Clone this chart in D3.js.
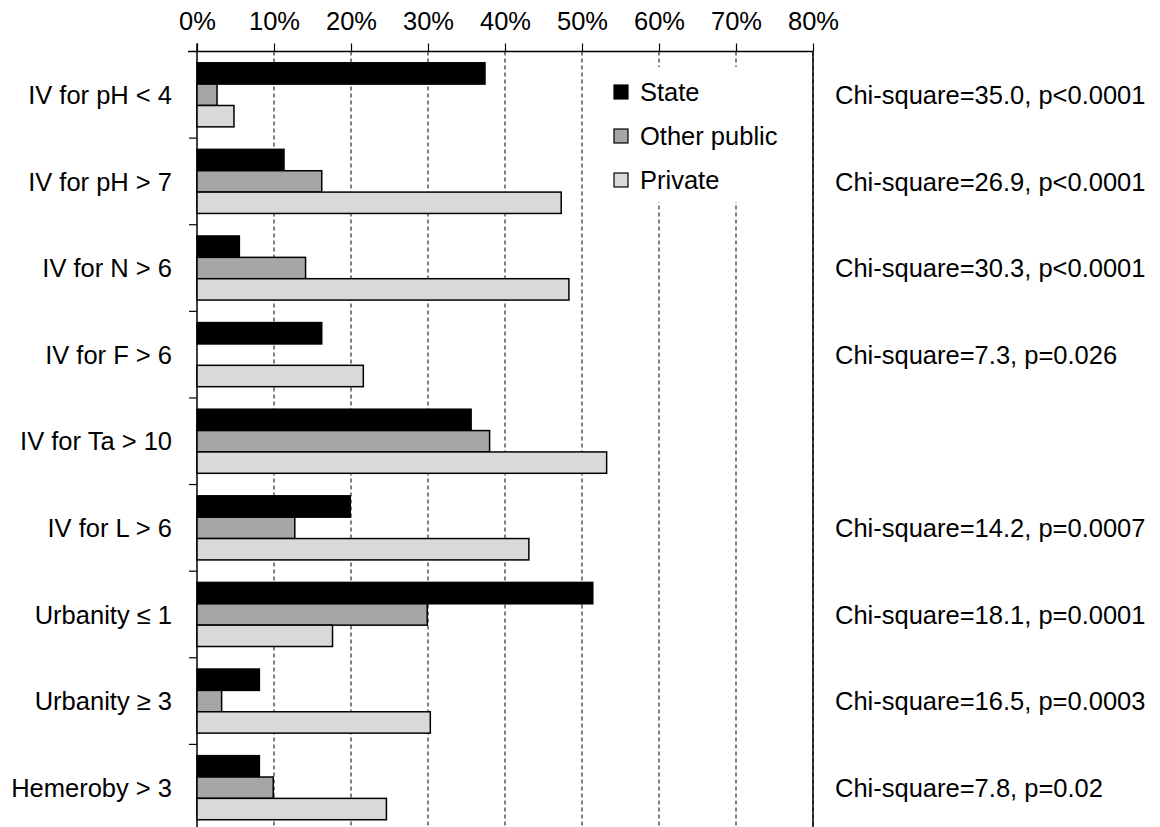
<!DOCTYPE html>
<html>
<head>
<meta charset="utf-8">
<script src="https://cdn.jsdelivr.net/npm/d3@7"></script>
<style>
  body { margin: 0; background: #fff; }
  svg { display: block; font-family: Arial, "Liberation Sans", sans-serif; }
  .grid { stroke: #000; stroke-width: 1; stroke-dasharray: 4,3; }
  .lbl { font-size: 25.5px; fill: #000; }
</style>
</head>
<body>
<div id="chart"></div>
<script>
const width = 1160;
const height = 827;

// data (percent of sites)
const categories = ["IV for pH < 4", "IV for pH > 7", "IV for N > 6", "IV for F > 6", "IV for Ta > 10",
    "IV for L > 6", "Urbanity ≤ 1", "Urbanity ≥ 3", "Hemeroby > 3"];
const seriesNames = ["State", "Other public", "Private"];
const stateValues = [37.4, 11.3, 5.5, 16.2, 35.6, 19.9, 51.4, 8.1, 8.1];
const otherPublicValues = [2.6, 16.2, 14.1, 0, 38.0, 12.7, 29.9, 3.2, 9.9];
const privateValues = [4.8, 47.3, 48.3, 21.6, 53.2, 43.1, 17.6, 30.3, 24.6];
const tickValues = [0, 10, 20, 30, 40, 50, 60, 70, 80];
const statLabels = ["Chi-square=35.0, p<0.0001", "Chi-square=26.9, p<0.0001", "Chi-square=30.3, p<0.0001",
    "Chi-square=7.3, p=0.026", "", "Chi-square=14.2, p=0.0007", "Chi-square=18.1, p=0.0001",
    "Chi-square=16.5, p=0.0003", "Chi-square=7.8, p=0.02"];

const colors = ["#000000", "#a6a6a6", "#d9d9d9"];

const plotLeft = 197, plotRight = 813;
const plotTop = 51.5, plotBottom = 831;

const x = d3.scaleLinear().domain([0, 80]).range([plotLeft, plotRight]);
const y = d3.scaleBand().domain(categories).range([plotTop, plotBottom])
    .paddingInner(0.26).paddingOuter(0.13);
const ySeries = d3.scaleBand().domain(seriesNames).range([0, y.bandwidth()]);
const color = d3.scaleOrdinal().domain(seriesNames).range(colors);

// one row per bar
const rows = [];
categories.forEach((c, i) => {
    [stateValues, otherPublicValues, privateValues].forEach((vals, j) => {
        rows.push({ category: c, series: seriesNames[j], value: vals[i] });
    });
});

const svg = d3.select("#chart").append("svg")
    .attr("width", width)
    .attr("height", height);

// dashed gridlines
svg.append("g")
    .selectAll("line")
    .data(tickValues.filter(t => t > 0))
    .join("line")
    .attr("class", "grid")
    .attr("x1", d => x(d)).attr("x2", d => x(d))
    .attr("y1", plotTop).attr("y2", plotBottom);

// right border (80%)
svg.append("line")
    .attr("x1", x(80)).attr("x2", x(80))
    .attr("y1", plotTop).attr("y2", plotBottom)
    .attr("stroke", "#000").attr("stroke-width", 1.5);

// top axis
const xAxis = d3.axisTop(x)
    .tickValues(tickValues)
    .tickFormat(d => d + "%")
    .tickSize(8)
    .tickPadding(14);
const gx = svg.append("g")
    .attr("transform", `translate(0,${plotTop})`)
    .call(xAxis);
gx.select(".domain").remove();
gx.append("line")
    .attr("x1", plotLeft - 9).attr("x2", plotRight)
    .attr("stroke", "#000").attr("stroke-width", 1.5);
gx.selectAll(".tick line").attr("stroke", "#000").attr("stroke-width", 1.2);
gx.selectAll(".tick text")
    .attr("class", "lbl")
    .attr("font-size", null)
    .attr("font-family", null)
    .style("font-size", "25.5px");

// left axis: ticks between categories
const boundaries = d3.range(1, categories.length).map(i => y.step() * i + plotTop);
svg.append("g")
    .selectAll("line")
    .data(boundaries)
    .join("line")
    .attr("x1", plotLeft - 8).attr("x2", plotLeft)
    .attr("y1", d => d).attr("y2", d => d)
    .attr("stroke", "#000").attr("stroke-width", 1.2);
svg.append("line")
    .attr("x1", plotLeft).attr("x2", plotLeft)
    .attr("y1", plotTop - 8).attr("y2", plotBottom)
    .attr("stroke", "#000").attr("stroke-width", 1.5);

// category labels
svg.append("g")
    .selectAll("text")
    .data(categories)
    .join("text")
    .attr("class", "lbl")
    .attr("x", 172)
    .attr("y", d => y(d) + y.bandwidth() / 2)
    .attr("dy", "0.36em")
    .attr("text-anchor", "end")
    .text(d => d);

// legend (white box hides gridlines)
const legend = svg.append("g");
legend.append("rect")
    .attr("x", 596).attr("y", 67)
    .attr("width", 210).attr("height", 135)
    .attr("fill", "#fff");
const legendItems = legend.selectAll("g")
    .data(seriesNames)
    .join("g")
    .attr("transform", (d, i) => `translate(614,${92 + i * 44})`);
legendItems.append("rect")
    .attr("x", 0).attr("y", -7)
    .attr("width", 14).attr("height", 14)
    .attr("fill", d => color(d))
    .attr("stroke", "#000").attr("stroke-width", 1.2);
legendItems.append("text")
    .attr("class", "lbl")
    .attr("x", 26)
    .attr("dy", "0.36em")
    .text(d => d);

// bars
svg.append("g")
    .selectAll("rect")
    .data(rows.filter(d => d.value > 0))
    .join("rect")
    .attr("x", x(0))
    .attr("y", d => y(d.category) + ySeries(d.series))
    .attr("width", d => x(d.value) - x(0))
    .attr("height", ySeries.bandwidth())
    .attr("fill", d => color(d.series))
    .attr("stroke", "#000")
    .attr("stroke-width", 1.5);

// chi-square annotations
svg.append("g")
    .selectAll("text")
    .data(categories)
    .join("text")
    .attr("class", "lbl")
    .attr("x", 835)
    .attr("y", d => y(d) + y.bandwidth() / 2)
    .attr("dy", "0.36em")
    .text((d, i) => statLabels[i]);
</script>
</body>
</html>
